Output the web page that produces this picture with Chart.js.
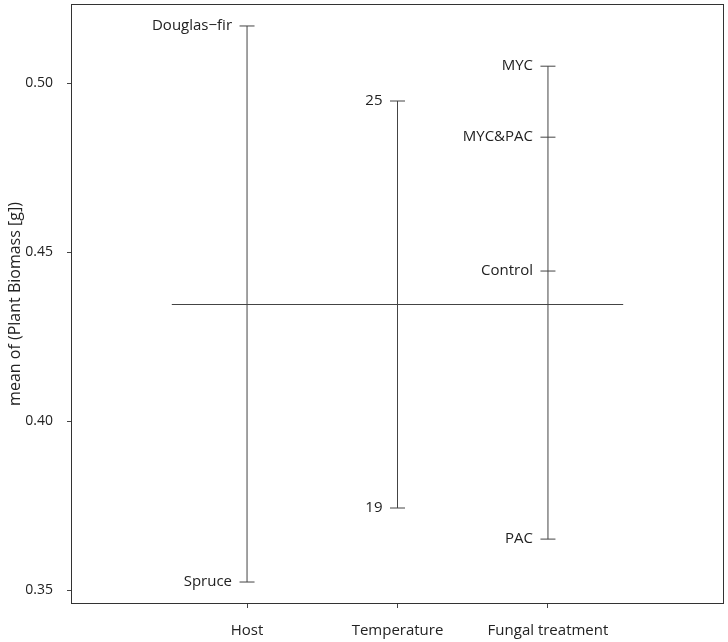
<!DOCTYPE html>
<html>
<head>
<meta charset="utf-8">
<script src="https://cdn.jsdelivr.net/npm/chart.js@4"></script>
<style>
	html, body { margin: 0; padding: 0; background: #fff; }
	#wrap { width: 728px; height: 642px; }
</style>
</head>
<body>
<div id="wrap"><canvas id="myChart"></canvas></div>
<script>
/* data */
const factors = ['Host', 'Temperature', 'Fungal treatment'];
const hostLevels = ['Douglas\u2212fir', 'Spruce'];
const hostMeans = [0.5169, 0.3524];
const tempLevels = ['19', '25'];
const tempMeans = [0.3743, 0.4947];
const fungalLevels = ['Control', 'MYC', 'MYC&PAC', 'PAC'];
const fungalMeans = [0.4444, 0.5050, 0.4840, 0.3651];
const grandMean = 0.4345;
const yTicks = [0.35, 0.40, 0.45, 0.50];

const lineColor = '#444';
const textColor = '#222';
const fontFamily = '"Open Sans", "DejaVu Sans", sans-serif';

const groups = [
	{ levels: hostLevels, means: hostMeans },
	{ levels: tempLevels, means: tempMeans },
	{ levels: fungalLevels, means: fungalMeans }
];

let datasets = [];

// grand mean line
datasets.push({
	type: 'line',
	data: [{ x: 0.5, y: grandMean }, { x: factors.length + 0.5, y: grandMean }],
	borderColor: lineColor,
	borderWidth: 1,
	pointRadius: 0
});

groups.forEach((g, i) => {
	// vertical range line for the factor
	datasets.push({
		type: 'line',
		data: [{ x: i + 1, y: Math.min(...g.means) }, { x: i + 1, y: Math.max(...g.means) }],
		borderColor: lineColor,
		borderWidth: 1,
		pointRadius: 0
	});
	// short horizontal marks for each level
	datasets.push({
		type: 'scatter',
		data: g.means.map(m => ({ x: i + 1, y: m })),
		levelNames: g.levels,
		pointStyle: 'line',
		pointRadius: 7.5,
		pointBorderColor: lineColor,
		pointBorderWidth: 1
	});
});

/* level names + y title + box */
const designLabels = {
	id: 'designLabels',
	afterDraw(chart) {
		const c = chart.ctx;
		const area = chart.chartArea;
		c.save();
		c.strokeStyle = '#333';
		c.lineWidth = 1;
		c.strokeRect(Math.round(area.left) + 0.5, Math.round(area.top) + 0.5,
			Math.round(area.right - area.left) - 1, Math.round(area.bottom - area.top) - 1);

		c.fillStyle = textColor;
		c.font = '15px ' + fontFamily;
		c.textAlign = 'right';
		c.textBaseline = 'middle';
		chart.data.datasets.forEach((ds, di) => {
			if (!ds.levelNames) return;
			const meta = chart.getDatasetMeta(di);
			meta.data.forEach((pt, k) => {
				c.fillText(ds.levelNames[k], pt.x - 15, pt.y);
			});
		});

		c.font = '16px ' + fontFamily;
		c.textAlign = 'center';
		c.translate(15, (area.top + area.bottom) / 2);
		c.rotate(-Math.PI / 2);
		c.fillText('mean of (Plant Biomass [g])', 0, 0);
		c.restore();
	}
};

const ctx = document.getElementById('myChart');

new Chart(ctx, {
	data: { datasets: datasets },
	options: {
		responsive: true,
		maintainAspectRatio: false,
		animation: false,
		layout: { autoPadding: false, padding: { top: 4, right: 4, left: 0, bottom: 0 } },
		plugins: {
			legend: { display: false },
			tooltip: { enabled: false }
		},
		scales: {
			x: {
				type: 'linear',
				min: -0.17,
				max: 4.17,
				afterFit: (scale) => {
					scale.height = 38;
					scale.paddingLeft = 0;
					scale.paddingRight = 0;
				},
				afterBuildTicks: (scale) => {
					scale.ticks = factors.map((f, i) => ({ value: i + 1 }));
				},
				ticks: {
					autoSkip: false,
					maxRotation: 0,
					padding: 14,
					color: textColor,
					font: { size: 15, family: fontFamily },
					callback: (v) => factors[v - 1]
				},
				grid: { drawOnChartArea: false, drawTicks: true, tickLength: 4, color: lineColor },
				border: { display: false }
			},
			y: {
				type: 'linear',
				min: 0.3459,
				max: 0.5234,
				afterFit: (scale) => {
					scale.width = 71;
					scale.paddingTop = 0;
					scale.paddingBottom = 0;
				},
				afterBuildTicks: (scale) => {
					scale.ticks = yTicks.map(v => ({ value: v }));
				},
				ticks: {
					padding: 14,
					color: textColor,
					font: { size: 14, family: fontFamily },
					callback: (v) => v.toFixed(2)
				},
				grid: { drawOnChartArea: false, drawTicks: true, tickLength: 4, color: lineColor },
				border: { display: false }
			}
		}
	},
	plugins: [designLabels]
});
</script>
</body>
</html>
